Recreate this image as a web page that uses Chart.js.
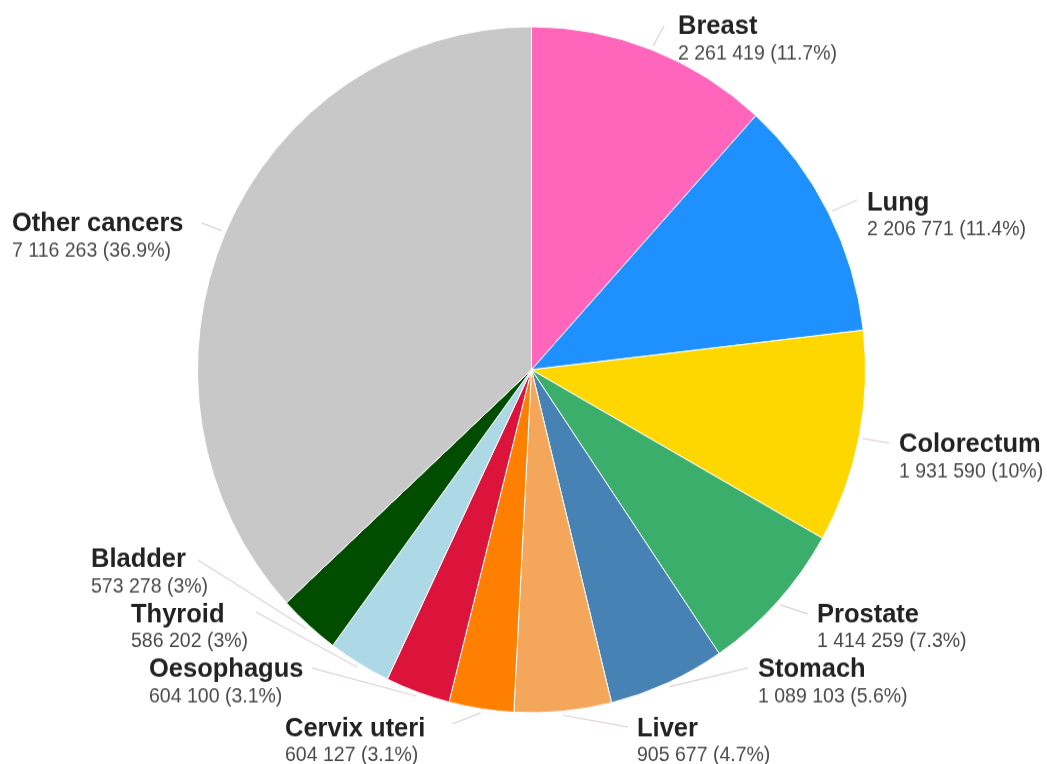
<!DOCTYPE html>
<html>
<head>
<meta charset="utf-8">
<script src="https://cdn.jsdelivr.net/npm/chart.js@4/dist/chart.umd.min.js"></script>
<style>
  html, body { margin: 0; padding: 0; background: #fff; overflow: hidden; width: 1047px; height: 764px; }
  /* source picture is slightly taller than wide, so stretch a bit */
  #pie { display: block; width: 1047px; height: 770px; transform: scale(1, 1.027); transform-origin: 0 0; }
</style>
</head>
<body>
<canvas id="pie" width="1047" height="770"></canvas>
<script>
/* ===============================
   DATA
   =============================== */
const sites = ["Breast", "Lung", "Colorectum", "Prostate", "Stomach", "Liver",
  "Cervix uteri", "Oesophagus", "Thyroid", "Bladder", "Other cancers"];
const cases = [2261419, 2206771, 1931590, 1414259, 1089103, 905677,
  604127, 604100, 586202, 573278, 7116263];
const colors = ["#ff66bb", "#1e90ff", "#ffd700", "#3cae6c", "#4682b4", "#f4a65a",
  "#ff7f00", "#dc143c", "#add8e6", "#004d00", "#c8c8c8"];

// label text anchor (left x, name centre y) and leader end, in picture px
const labelAt = [[678, 27], [867, 203], [899, 445], [817, 615], [758, 670], [637, 729],
  [285, 729], [149, 670], [131, 615], [91, 560], [12, 224]];
const leaderEnd = [[664, 26], [857, 200], [889, 443], [808, 614], [748, 668], [628, 727],
  [452, 724], [312, 668], [256, 612], [198, 560], [202, 223]];

const SY = 1.027;

/* ===============================
   HELPERS
   =============================== */
function fmtNum(n) {
  return String(n).replace(/\B(?=(\d{3})+(?!\d))/g, " ");
}

function fmtPct(v, total) {
  let p = (v / total * 100).toFixed(1);
  if (p.endsWith(".0")) p = p.slice(0, -2);
  return p + "%";
}

const labelPlugin = {
  id: "sliceLabels",
  afterDraw(chart) {
    const ctx = chart.ctx;
    const meta = chart.getDatasetMeta(0);
    const total = cases.reduce((a, b) => a + b, 0);

    ctx.save();
    meta.data.forEach((arc, i) => {
      const p = arc.getProps(["x", "y", "startAngle", "endAngle", "outerRadius"], true);
      const mid = (p.startAngle + p.endAngle) / 2;
      const sx = p.x + Math.cos(mid) * (p.outerRadius + 4);
      const sy = p.y + Math.sin(mid) * (p.outerRadius + 4);

      // leader line
      ctx.strokeStyle = "rgba(200,180,190,0.6)";
      ctx.lineWidth = 1.2;
      ctx.beginPath();
      ctx.moveTo(sx, sy);
      ctx.lineTo(leaderEnd[i][0], leaderEnd[i][1] / SY);
      ctx.stroke();

      // texts
      const [lx, ly] = labelAt[i];
      ctx.textAlign = "left";
      ctx.textBaseline = "middle";
      ctx.fillStyle = "#222";
      ctx.font = "bold 25.5px 'Liberation Sans', Arial, sans-serif";
      ctx.fillText(sites[i], lx, ly / SY);
      ctx.fillStyle = "#4a4a4a";
      ctx.font = "19.5px 'Liberation Sans', Arial, sans-serif";
      ctx.fillText(fmtNum(cases[i]) + " (" + fmtPct(cases[i], total) + ")", lx, (ly + 27) / SY);
    });
    ctx.restore();
  }
};

/* ===============================
   CHART
   =============================== */
new Chart(document.getElementById("pie"), {
  type: "pie",
  data: {
    labels: sites,
    datasets: [{
      data: cases,
      backgroundColor: colors,
      borderColor: "#ffffff",
      borderWidth: 1
    }]
  },
  options: {
    responsive: false,
    animation: false,
    layout: { padding: { left: 197, right: 181, top: 25, bottom: 75 } },
    plugins: {
      legend: { display: false },
      tooltip: { enabled: false }
    }
  },
  plugins: [labelPlugin]
});
</script>
</body>
</html>
